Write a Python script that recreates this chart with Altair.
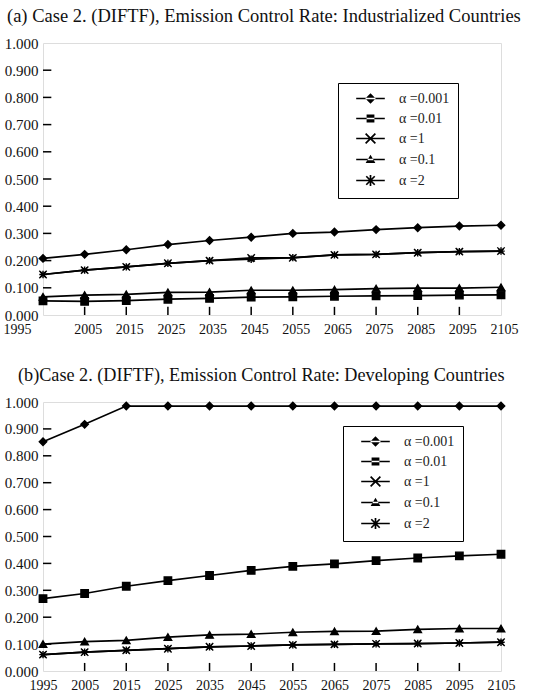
import math
import altair as alt
import pandas as pd

# ---------------- data ----------------
years = [1995, 2005, 2015, 2025, 2035, 2045, 2055, 2065, 2075, 2085, 2095, 2105]
alpha_labels = ["α =0.001", "α =0.01", "α =1", "α =0.1", "α =2"]

# (a) Industrialized countries
ind_a0001 = [0.208, 0.223, 0.240, 0.259, 0.274, 0.286, 0.300, 0.305, 0.314, 0.321, 0.327, 0.330]
ind_a001 = [0.052, 0.050, 0.053, 0.058, 0.061, 0.066, 0.067, 0.069, 0.070, 0.071, 0.073, 0.074]
ind_a1 = [0.149, 0.165, 0.177, 0.190, 0.200, 0.210, 0.210, 0.221, 0.223, 0.229, 0.233, 0.235]
ind_a01 = [0.067, 0.073, 0.076, 0.083, 0.084, 0.091, 0.091, 0.093, 0.097, 0.099, 0.099, 0.102]
ind_a2 = [0.149, 0.165, 0.177, 0.190, 0.200, 0.205, 0.211, 0.221, 0.223, 0.229, 0.233, 0.235]

# (b) Developing countries
dev_a0001 = [0.852, 0.917, 0.985, 0.985, 0.985, 0.985, 0.985, 0.985, 0.985, 0.985, 0.985, 0.985]
dev_a001 = [0.269, 0.288, 0.315, 0.336, 0.355, 0.374, 0.389, 0.398, 0.410, 0.420, 0.428, 0.434]
dev_a1 = [0.061, 0.070, 0.077, 0.083, 0.090, 0.093, 0.097, 0.099, 0.101, 0.102, 0.104, 0.107]
dev_a01 = [0.100, 0.109, 0.114, 0.126, 0.134, 0.137, 0.144, 0.147, 0.148, 0.155, 0.158, 0.158]
dev_a2 = [0.061, 0.070, 0.077, 0.083, 0.090, 0.093, 0.097, 0.099, 0.101, 0.102, 0.104, 0.107]

y_ticks = [0.0, 0.1, 0.2, 0.3, 0.4, 0.5, 0.6, 0.7, 0.8, 0.9, 1.0]
inner_y_ticks = [0.1, 0.2, 0.3, 0.4, 0.5, 0.6, 0.7, 0.8, 0.9]
inner_x_ticks = [2005, 2015, 2025, 2035, 2045, 2055, 2065, 2075, 2085, 2095]

title_a = "(a) Case 2. (DIFTF), Emission Control Rate: Industrialized Countries"
title_b = "(b)Case 2. (DIFTF), Emission Control Rate: Developing Countries"

# ---------------- styling ----------------
FONT = "Liberation Serif"
point_shapes = [
    "diamond",
    "square",
    "M-1,-1L1,1M-1,1L1,-1",
    "triangle-up",
    "M-1,0H1M0,-1V1M-0.72,-0.72L0.72,0.72M-0.72,0.72L0.72,-0.72",
]


def bar(x1, y1, x2, y2, w=0.13):
    """thin filled bar (as an SVG subpath) along a segment, always same winding"""
    dx, dy = x2 - x1, y2 - y1
    ln = math.hypot(dx, dy)
    nx, ny = -dy / ln * w, dx / ln * w
    pts = [(x1 + nx, y1 + ny), (x2 + nx, y2 + ny), (x2 - nx, y2 - ny), (x1 - nx, y1 - ny)]
    return "M" + "L".join(f"{px:.3f},{py:.3f}" for px, py in pts) + "Z"


seg = bar(-2.2, 0, 2.2, 0)
legend_shapes = [
    seg + "M0,-0.8L0.8,0L0,0.8L-0.8,0Z",
    seg + "M-0.6,-0.6L0.6,-0.6L0.6,0.6L-0.6,0.6Z",
    seg + bar(-0.75, -0.75, 0.75, 0.75) + bar(-0.75, 0.75, 0.75, -0.75),
    seg + "M0,-0.75L0.75,0.55L-0.75,0.55Z",
    seg + bar(0, -0.85, 0, 0.85) + bar(-0.65, -0.65, 0.65, 0.65) + bar(-0.65, 0.65, 0.65, -0.65),
]


def long_df(series):
    rows = []
    for lab, vals in zip(alpha_labels, series):
        for yr, v in zip(years, vals):
            rows.append({"year": yr, "value": v, "alpha": lab})
    return pd.DataFrame(rows)


def panel(series, title, title_offset, title_dx, title_size, height, legend_x, legend_y, x_label_offset):
    df = long_df(series)
    x_scale = alt.Scale(domain=[1995, 2105], nice=False, zero=False)
    y_scale = alt.Scale(domain=[0, 1], nice=False)
    x_axis = alt.Axis(
        values=years, format="d", title=None, ticks=False, domain=False, grid=False,
        labelFont=FONT, labelFontSize=14, labelPadding=7, labelFlush=False,
        labelOverlap=False, labelColor="#111", labelOffset=x_label_offset,
    )
    y_axis = alt.Axis(
        values=y_ticks, format=".3f", title=None, ticks=False, domain=False, grid=False,
        labelFont=FONT, labelFontSize=15, labelPadding=5, labelColor="#111",
        labelOverlap=False, tickCount=11,
    )
    X = alt.X("year:Q", scale=x_scale, axis=x_axis)
    Y = alt.Y("value:Q", scale=y_scale, axis=y_axis)

    base = alt.Chart(df)
    lines = base.mark_line(color="black", strokeWidth=1.7).encode(x=X, y=Y, detail="alpha:N")
    points = base.mark_point(
        filled=True, fill="black", stroke="black", strokeWidth=1.4, size=55, opacity=1
    ).encode(
        x=X, y=Y,
        shape=alt.Shape("alpha:N", scale=alt.Scale(domain=alpha_labels, range=point_shapes), legend=None),
    )
    leg = base.mark_point(
        filled=True, fill="black", color="black", size=169, opacity=1
    ).encode(
        x=X, y=Y,
        shape=alt.Shape(
            "alpha:N",
            scale=alt.Scale(domain=alpha_labels, range=legend_shapes),
            legend=alt.Legend(
                title=None, orient="none", legendX=legend_x, legendY=legend_y,
                padding=8, strokeColor="black", fillColor="white",
                labelFont=FONT, labelFontSize=14, labelColor="#222",
                labelOffset=21, symbolOffset=17, rowPadding=4,
                symbolSize=169, symbolFillColor="black", symbolOpacity=1,
            ),
        ),
    ).transform_filter("false")

    xt = pd.DataFrame({"year": inner_x_ticks})
    yt = pd.DataFrame({"value": inner_y_ticks})
    xticks = alt.Chart(xt).mark_rule(color="black", strokeWidth=1.5).encode(
        x=X, y=alt.datum(0), y2=alt.datum(0.03)
    )
    yticks = alt.Chart(yt).mark_rule(color="black", strokeWidth=1.5).encode(
        y=Y, x=alt.datum(1995), x2=alt.datum(1997)
    )

    return alt.layer(lines, points, xticks, yticks, leg).resolve_scale(shape="independent").properties(
        width=458, height=height,
        title=alt.TitleParams(
            title, font=FONT, fontSize=title_size, fontWeight="normal", anchor="start",
            frame="group", offset=title_offset, dx=title_dx, color="#111",
        ),
    )


pa = panel(
    [ind_a0001, ind_a001, ind_a1, ind_a01, ind_a2], title_a, 11, -36, 18.5, 272, 295, 40,
    {"condition": {"test": "datum.value == 1995", "value": -26}, "value": 3},
)
pb = panel(
    [dev_a0001, dev_a001, dev_a1, dev_a01, dev_a2], title_b, 10, -25, 18.2, 269, 300, 24, 0,
)

chart = alt.vconcat(pa, pb, spacing=28).resolve_scale(shape="independent").resolve_legend(
    shape="independent"
).properties(
    padding={"left": 2, "top": 6, "right": 5, "bottom": 0}
).configure_view(stroke="black", strokeWidth=2).configure_axisY(labelOverlap=False).configure(
    background="white"
)

chart.save("out.html", embed_options={"renderer": "svg", "actions": False})
